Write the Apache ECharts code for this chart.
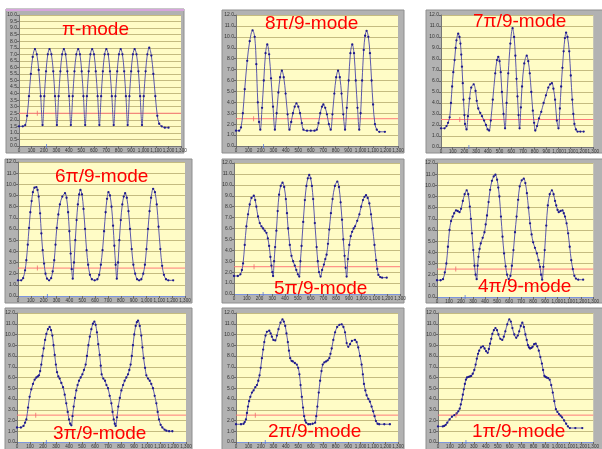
<!DOCTYPE html>
<html><head><meta charset="utf-8">
<script src="https://cdn.jsdelivr.net/npm/echarts@6/dist/echarts.min.js"></script>
<style>html,body{margin:0;padding:0;background:#fff}#c{width:602px;height:449px}</style>
</head><body><div id="c"></div>
<script>
// ---- data ([x, y] pairs) ----
const modeTitles = ['π-mode','8π/9-mode','7π/9-mode','6π/9-mode','5π/9-mode','4π/9-mode','3π/9-mode','2π/9-mode','1π/9-mode'];
const yMaxes = [10,12,12,12,12,12,12,12,12];
const yIntervals = [0.5,1,1,1,1,1,1,1,1];
const xMax = 1300, xInterval = 100;
const redLevels = [2.5,2.5,2.5,2.5,2.5,2.5,2.5,2.5,2.5];
const redTickX = [147,141,160,151,157,156,144,155,150];
const blueTickX = [221,221,238,229,228,234,226,235,234];

const piMode = [[0,1.5],[30,1.5],[50,1.6],[65,2.3],[80,3.8],[95,5.5],[110,6.8],[128,7.4],
[143,7.0],[158,5.8],[174,3.8],[189,1.6],[203,3.8],[217,5.7],[231,7.0],[245,7.4],
[260,7.0],[275,5.7],[289,3.8],[304,1.6],[318,3.8],[332,5.7],[346,7.0],[360,7.4],
[374,7.0],[388,5.7],[402,3.8],[416,1.6],[431,3.8],[445,5.7],[460,7.0],[475,7.4],
[489,7.0],[503,5.7],[517,3.8],[531,1.6],[545,3.8],[559,5.7],[573,7.0],[587,7.4],
[602,7.0],[616,5.7],[631,3.8],[645,1.6],[659,3.8],[673,5.7],[687,7.0],[701,7.4],
[716,7.0],[730,5.7],[745,3.8],[760,1.6],[774,3.8],[788,5.7],[802,7.0],[816,7.4],
[830,7.0],[844,5.7],[858,3.8],[872,1.6],[886,3.8],[900,5.7],[914,7.0],[928,7.4],
[943,7.0],[958,5.7],[972,3.8],[987,1.6],[1001,3.8],[1016,5.7],[1030,7.0],[1045,7.5],
[1062,6.9],[1078,5.5],[1094,3.8],[1110,2.3],[1125,1.7],[1145,1.5],[1170,1.4],[1200,1.4]];

const mode8 = [[0,1.4],[25,1.4],[40,1.7],[55,3.0],[70,5.2],[90,7.8],[110,9.6],[133,10.6],[150,10.0],[163,7.5],[175,4.0],[185,2.2],[195,1.5],
[209,3.5],[223,6.0],[237,8.5],[251,9.3],[266,8.4],[281,6.2],[297,3.6],[312,1.5],
[326,3.0],[340,4.9],[354,6.3],[368,6.9],[383,6.3],[398,4.8],[414,2.9],[429,1.5],
[443,2.2],[457,3.0],[471,3.6],[485,3.9],[500,3.6],[514,3.0],[528,2.1],[541,1.5],[570,1.4],[600,1.4],[630,1.4],
[648,1.5],[662,2.1],[676,3.0],[690,3.6],[701,3.8],[716,3.5],[730,2.9],[745,2.0],[760,1.5],
[774,2.9],[789,4.8],[804,6.3],[819,6.9],[833,6.3],[847,4.8],[861,2.9],[875,1.5],
[889,3.5],[904,6.0],[918,8.5],[933,9.3],[947,8.5],[961,6.0],[975,3.5],[989,1.5],
[1000,3.0],[1012,6.0],[1025,8.8],[1036,10.1],[1048,10.55],[1062,10.0],[1075,8.5],[1088,6.0],[1100,3.8],[1115,2.0],[1130,1.5],[1150,1.3],[1195,1.3]];

const mode7 = [[0,1.7],[30,1.7],[47,1.9],[60,2.2],[74,2.7],[85,4.0],[95,5.5],[105,6.8],[116,7.9],[125,9.0],[132,9.7],[147,10.3],[158,10.0],[166,9.4],[173,8.4],[179,7.3],[186,5.8],[192,4.3],[200,2.9],[205,2.1],[218,1.6],
[230,2.8],[244,4.4],[258,5.4],[279,5.7],[295,5.1],[305,4.2],[318,3.5],[335,3.1],[350,2.8],[368,2.4],[384,2.0],[398,1.6],[411,1.5],
[425,2.4],[442,4.3],[463,6.7],[478,7.9],[489,8.2],[500,7.8],[510,6.8],[520,5.0],[534,3.0],[547,1.7],
[560,4.0],[574,6.7],[592,9.4],[611,10.8],[624,10.0],[635,8.3],[645,6.2],[653,4.6],[662,2.9],[671,1.7],
[682,3.6],[692,5.5],[711,7.6],[732,8.3],[745,7.8],[758,6.7],[771,5.0],[784,3.3],[795,2.2],[805,1.5],
[820,1.9],[837,2.6],[856,3.2],[876,4.0],[896,4.7],[916,5.4],[932,5.7],[947,5.8],[960,5.3],[974,4.3],[989,2.4],[1003,1.7],
[1015,3.5],[1026,5.5],[1037,7.2],[1047,8.7],[1058,9.9],[1068,10.4],[1080,10.0],[1095,8.7],[1108,6.5],[1121,4.3],[1130,3.0],[1139,2.1],[1152,1.6],[1166,1.4],[1190,1.4],[1218,1.4]];

const mode6 = [[0,1.4],[25,1.4],[40,1.6],[55,2.3],[65,3.2],[76,4.6],[86,6.1],[96,7.5],[106,8.5],[116,9.3],[128,9.7],[143,9.75],[152,9.5],[161,8.9],[172,7.4],[182,5.6],[192,4.1],[203,2.9],[214,2.0],[226,1.55],[242,1.4],
[258,1.6],[270,2.2],[282,3.2],[292,4.6],[302,6.1],[314,7.3],[326,8.2],[345,8.9],[366,9.2],[378,8.8],[390,7.5],[400,5.8],[410,3.8],[418,2.4],[426,1.55],
[436,3.0],[446,5.0],[456,6.8],[466,8.2],[476,9.1],[486,9.5],[498,9.1],[510,7.8],[522,6.0],[534,4.1],[546,2.8],[560,1.9],[575,1.5],[597,1.4],
[618,1.5],[632,1.9],[645,2.8],[658,4.1],[670,5.8],[682,7.5],[693,8.7],[704,9.3],[716,9.0],[728,8.0],[740,6.3],[750,4.5],[760,2.8],[769,1.55],
[779,3.0],[789,5.0],[800,6.8],[812,8.2],[823,8.9],[834,9.2],[847,8.8],[860,7.6],[872,6.0],[885,4.2],[898,2.8],[912,2.0],[927,1.5],[943,1.4],
[960,1.5],[975,2.0],[988,2.8],[1000,4.2],[1012,6.0],[1024,7.6],[1036,8.8],[1052,9.6],[1066,9.3],[1080,8.2],[1094,6.2],[1108,4.2],[1122,2.7],[1136,1.9],[1152,1.5],[1170,1.4],[1208,1.4]];

const mode5 = [[0,1.65],[30,1.65],[50,1.8],[62,2.2],[71,2.8],[84,4.5],[97,6.2],[110,7.3],[123,8.2],[137,8.8],[155,9.0],[166,8.6],[175,8.0],[188,7.1],[202,6.5],[215,6.2],[228,6.0],[241,5.8],[254,5.6],[265,5.1],[275,4.4],[285,3.4],[293,2.6],[300,2.0],[306,1.65],
[314,3.0],[322,4.3],[332,5.8],[342,7.6],[353,9.1],[366,9.9],[380,10.2],[393,9.8],[406,8.7],[415,7.4],[424,6.0],[437,4.5],[450,3.5],[463,3.0],[476,2.6],[488,2.2],[500,1.8],[511,1.6],
[520,3.0],[529,4.4],[542,6.6],[555,8.6],[567,9.9],[578,10.6],[589,10.9],[600,10.6],[610,9.9],[620,8.7],[633,6.5],[647,4.3],[656,3.0],[666,2.0],[678,1.6],
[690,2.2],[704,2.7],[715,3.2],[725,3.6],[736,4.6],[746,5.9],[759,7.4],[772,8.7],[790,9.9],[809,10.3],[822,9.8],[835,8.4],[846,6.8],[856,5.0],[866,3.5],[874,2.4],[882,1.6],
[892,3.2],[903,4.5],[914,5.3],[925,5.7],[937,6.0],[948,6.2],[965,6.7],[982,7.3],[996,8.0],[1010,8.6],[1022,8.9],[1034,9.05],[1047,8.8],[1060,8.3],[1073,7.3],[1086,6.0],[1100,4.5],[1113,3.1],[1122,2.3],[1131,1.75],[1145,1.55],[1160,1.5],[1196,1.5]];

const mode4 = [[0,1.5],[30,1.5],[50,1.6],[65,2.2],[78,3.0],[91,4.5],[104,6.0],[117,6.8],[130,7.2],[143,7.5],[158,7.75],[172,7.7],[187,7.6],[200,7.9],[215,8.6],[230,9.2],[247,9.55],[260,9.2],[273,8.1],[282,7.0],[291,5.7],[302,4.2],[312,2.8],[321,2.0],[330,1.6],
[338,2.8],[345,3.6],[354,4.3],[364,4.8],[380,5.3],[395,5.8],[405,6.5],[416,7.3],[429,8.5],[442,9.6],[457,10.4],[472,10.8],[486,10.95],[500,10.5],[510,9.8],[519,9.0],[532,7.2],[545,5.4],[558,3.9],[571,2.75],[583,2.0],[597,1.6],
[611,1.9],[623,2.8],[636,4.2],[649,5.8],[662,7.2],[675,8.7],[688,9.9],[705,10.45],[722,10.6],[735,10.2],[748,9.3],[761,8.0],[774,6.6],[787,5.6],[800,4.9],[815,4.4],[831,3.9],[845,3.3],[857,2.7],[866,2.0],[875,1.55],
[885,2.7],[896,4.2],[909,6.4],[922,8.2],[938,9.2],[956,9.55],[970,9.2],[982,8.6],[992,8.2],[1003,7.8],[1013,7.6],[1028,7.7],[1044,7.75],[1055,7.5],[1065,7.2],[1078,6.6],[1091,5.7],[1104,4.5],[1117,3.3],[1130,2.5],[1143,1.9],[1156,1.65],[1175,1.55],[1216,1.55]];

const mode3 = [[0,1.35],[30,1.35],[50,1.5],[62,1.8],[72,2.1],[85,3.2],[97,4.2],[110,4.9],[123,5.4],[136,5.8],[149,6.0],[160,6.1],[169,6.2],[178,6.6],[187,7.2],[196,8.0],[205,8.7],[216,9.5],[226,10.05],[238,10.5],[251,10.7],[262,10.4],[272,9.9],[281,9.0],[290,8.1],[299,7.2],[308,6.5],[318,6.1],[328,5.9],[341,5.5],[354,5.1],[367,4.4],[379,3.6],[390,2.8],[400,2.1],[409,1.7],[418,1.55],
[427,2.4],[436,3.3],[446,4.1],[456,4.8],[466,5.3],[477,5.7],[490,6.0],[503,6.3],[515,6.7],[528,7.2],[538,8.0],[549,9.0],[560,9.8],[572,10.5],[584,11.0],[595,11.2],[605,10.9],[615,10.2],[625,9.1],[636,8.1],[644,7.1],[651,6.3],[664,5.9],[677,5.7],[688,5.3],[700,5.0],[713,4.3],[726,3.6],[735,2.8],[744,2.1],[752,1.7],[759,1.5],
[769,2.3],[779,3.3],[791,4.1],[803,4.8],[816,5.3],[828,5.7],[841,6.0],[854,6.3],[864,6.7],[874,7.2],[883,8.0],[892,9.0],[902,10.0],[913,10.8],[922,11.15],[931,11.3],[944,10.8],[956,9.9],[965,8.8],[974,7.8],[985,6.9],[995,6.2],[1008,5.9],[1021,5.7],[1033,5.4],[1046,5.0],[1059,4.3],[1072,3.6],[1082,2.8],[1092,2.1],[1105,1.6],[1118,1.35],[1135,1.15],[1149,1.05],[1170,1.0],[1195,1.0]];

const mode2 = [[0,1.65],[40,1.65],[61,1.7],[70,1.85],[80,2.1],[88,2.7],[96,3.3],[105,3.8],[115,4.2],[128,4.6],[141,4.8],[155,5.1],[168,5.3],[179,5.7],[189,6.2],[198,6.9],[208,7.8],[218,8.6],[227,9.3],[237,9.9],[248,10.25],[267,10.35],[278,10.1],[288,9.8],[300,9.5],[315,9.45],[328,9.9],[341,10.5],[357,11.1],[373,11.4],[384,11.2],[395,10.8],[405,10.1],[416,9.3],[425,8.5],[435,7.8],[446,7.55],[456,7.5],[472,7.35],[488,7.2],[499,6.9],[509,6.3],[518,5.3],[528,4.2],[538,3.2],[547,2.4],[555,2.0],[563,1.8],[580,1.65],[595,1.65],[615,1.7],[635,1.8],[644,2.4],[653,3.3],[664,4.6],[675,5.7],[686,6.6],[696,7.2],[709,7.4],[723,7.5],[736,7.6],[749,7.8],[758,8.2],[768,8.7],[781,9.5],[795,10.2],[812,10.7],[830,10.9],[848,10.95],[862,10.7],[875,10.2],[888,9.2],[901,8.85],[915,9.1],[930,9.4],[955,9.5],[968,9.3],[981,8.8],[995,8.0],[1008,7.2],[1018,6.3],[1027,5.4],[1038,4.8],[1048,4.35],[1062,4.0],[1075,3.75],[1088,3.3],[1101,2.85],[1112,2.4],[1123,1.95],[1136,1.7],[1149,1.65],[1190,1.65],[1235,1.65]];

const mode1 = [[0,1.45],[40,1.45],[52,1.5],[65,1.6],[78,1.8],[97,2.1],[117,2.35],[137,2.5],[156,2.65],[170,2.85],[182,3.1],[191,3.5],[200,3.95],[208,4.4],[216,4.9],[225,5.4],[234,5.8],[243,6.0],[256,6.05],[268,6.1],[278,6.15],[291,6.35],[304,6.7],[315,7.2],[325,7.75],[335,8.2],[345,8.5],[360,8.8],[377,8.9],[390,8.7],[403,8.45],[416,8.3],[426,8.65],[436,9.15],[446,9.6],[455,10.05],[468,10.4],[481,10.6],[494,10.4],[506,10.0],[522,9.6],[538,9.5],[551,9.8],[564,10.3],[580,10.95],[597,11.4],[610,11.2],[623,10.6],[639,10.0],[655,9.7],[668,9.9],[680,10.3],[693,10.8],[706,11.1],[719,10.7],[732,10.0],[743,9.5],[753,9.0],[762,8.8],[771,8.7],[782,8.75],[792,8.85],[805,9.1],[818,9.15],[831,8.9],[844,8.5],[857,7.9],[870,7.3],[880,6.7],[891,6.15],[900,6.05],[909,6.0],[922,5.95],[935,5.8],[948,5.3],[961,4.6],[974,3.8],[987,3.05],[1000,2.8],[1013,2.6],[1026,2.45],[1039,2.3],[1056,2.0],[1073,1.7],[1088,1.45],[1104,1.3],[1150,1.3],[1208,1.3]];

const curves = [piMode, mode8, mode7, mode6, mode5, mode4, mode3, mode2, mode1];

// ---- layout (pixels) ----
const frames = [[6,9,178,144],[222,10,182,143],[426,10,180,143],[5,159,187,144],[222,159,182,144],[426,159,180,144],[5,308,187,145],[222,308,182,145],[426,308,180,145]];
const plots = [[19,15,162,131],[236,15,162,131],[441,15,166,132],[18,162,167,134],[234,163,166,131],[437,163,167,134],[17,313,169,134],[236,313,162,134],[438,313,167,134]];
const titlePos = [[62,20],[265,14],[473,12],[55,167],[274,279],[478,277],[53,424],[268,422],[472,422]];

const chart = echarts.init(document.getElementById('c'), null, {renderer:'canvas'});
const grid = [], xAxis = [], yAxis = [], series = [], title = [], graphic = [];
for (let i = 0; i < 9; i++) {
  const f = frames[i], p = plots[i];
  graphic.push({type:'rect', z:-10, shape:{x:f[0], y:f[1], width:f[2], height:f[3]}, style:{fill:'#b2b2b2', stroke:'#8e8e8e', lineWidth:1}});
  grid.push({left:p[0], top:p[1], width:p[2], height:p[3], show:true, backgroundColor:'#fffcc6', borderWidth:0, containLabel:false});
  xAxis.push({type:'value', gridIndex:i, min:0, max:xMax, interval:xInterval,
    axisLine:{show:true, onZero:false, lineStyle:{color: i>=3 ? '#7d95dd' : '#777', width:1}},
    axisTick:{show:true, length:2, lineStyle:{color:'#666'}},
    axisLabel:{fontSize:4.6, color:'#333', margin:2, fontFamily:'Liberation Sans'},
    splitLine:{show:false}});
  yAxis.push({type:'value', gridIndex:i, min:0, max:yMaxes[i], interval:yIntervals[i],
    axisLine:{show:true, lineStyle:{color:'#777', width:1}},
    axisTick:{show:true, length:2, lineStyle:{color:'#666'}},
    axisLabel:{fontSize:5, color:'#333', margin:2, fontFamily:'Liberation Sans', formatter:v=>v.toFixed(1)},
    splitLine:{show:true, lineStyle:{color:'#c4bb80', width:1}}});
  // red reference level
  series.push({type:'line', xAxisIndex:i, yAxisIndex:i, data:[[0, redLevels[i]], [xMax, redLevels[i]]],
    symbol:'none', lineStyle:{color:'#ff7a7a', width:1}, z:2, silent:true, animation:false});
  series.push({type:'line', xAxisIndex:i, yAxisIndex:i, data:curves[i], smooth:0.35,
    symbol:'circle', symbolSize:2.3, showSymbol:true,
    itemStyle:{color:'#1e1a8c'}, lineStyle:{color:'#4a46a8', width:0.9},
    z:3, animation:false});
  series.push({type:'scatter', xAxisIndex:i, yAxisIndex:i, data:[[redTickX[i], redLevels[i]]],
    symbol:'rect', symbolSize:[1,5], itemStyle:{color:'#f06a6a'}, z:4, animation:false});
  series.push({type:'scatter', xAxisIndex:i, yAxisIndex:i, data:[[blueTickX[i], 0]],
    symbol:'rect', symbolSize:[1,4], itemStyle:{color:'#5a78d8'}, z:4, animation:false});
  title.push({text:modeTitles[i], left:titlePos[i][0], top:titlePos[i][1], padding:0,
    textStyle:{color:'#ff0000', fontSize:19, fontWeight:'normal', fontFamily:'Liberation Sans'}});
}
// pink top edge of the first panel frame
graphic.push({type:'rect', z:-9, shape:{x:6, y:9, width:178, height:2}, style:{fill:'#d7a6dc'}});

chart.setOption({animation:false, backgroundColor:'#ffffff', title, grid, xAxis, yAxis, series, graphic});
</script>
</body></html>
